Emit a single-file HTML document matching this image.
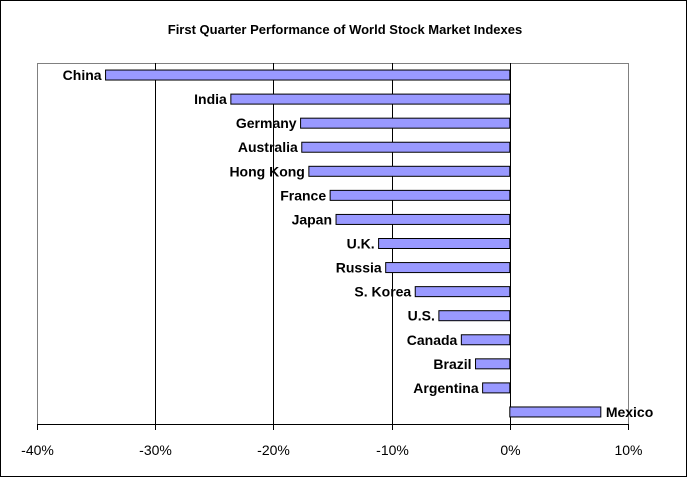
<!DOCTYPE html>
<html><head><meta charset="utf-8"><style>
html,body{margin:0;padding:0;background:#fff;}
svg{display:block;font-family:"Liberation Sans",Arial,sans-serif;}
</style></head><body>
<svg id="chart" width="687" height="477">
<rect x="0.5" y="0.5" width="686" height="476" fill="#fff" stroke="#000"/>
<text x="345" y="34" text-anchor="middle" font-size="13" font-weight="bold">First Quarter Performance of World Stock Market Indexes</text>
<g id="plot"></g>
</svg>
<script>
const categories = ["China","India","Germany","Australia","Hong Kong","France","Japan","U.K.","Russia","S. Korea","U.S.","Canada","Brazil","Argentina","Mexico"];
const values = [-34.2,-23.6,-17.7,-17.6,-17.0,-15.2,-14.7,-11.1,-10.5,-8.0,-6.0,-4.1,-2.9,-2.3,7.7];
const tickValues = [-40,-30,-20,-10,0,10];
const tickLabels = ["-40%","-30%","-20%","-10%","0%","10%"];

const NS="http://www.w3.org/2000/svg";
const g=document.getElementById('plot');
const L=37,R=628,T=63,B=424;
const xMin=-40,xMax=10;
function xs(v){return L+(v-xMin)/(xMax-xMin)*(R-L);}
const band=(B-T)/categories.length;
function yc(i){return T+band*(i+0.5);}
function mk(tag,attrs){const e=document.createElementNS(NS,tag);for(const k in attrs)e.setAttribute(k,attrs[k]);g.appendChild(e);return e;}

let pa=mk('rect',{x:L+0.5,y:T+0.5,width:R-L,height:B-T,fill:'#fff',stroke:'#808080'});



tickValues.forEach((v,i)=>{
  const x=Math.round(xs(v))+0.5;
  if(v>xMin && v<xMax){
    let gl=mk('line',{x1:x,x2:x,y1:T,y2:B,stroke:'#000'});
    
    
  }
  let tk=mk('line',{x1:x,x2:x,y1:B,y2:B+6,stroke:'#000'});
  
  
  let t=mk('text',{x:x,y:B+31,'text-anchor':'middle','font-size':'14'});
  t.textContent=tickLabels[i];
  
  
});
let ax=mk('line',{x1:L,x2:R+1,y1:B+0.5,y2:B+0.5,stroke:'#000'});



categories.forEach((c,i)=>{
  const v=values[i];
  const x0=xs(0),x1=xs(v);
  const y=yc(i);
  let b=mk('rect',{x:Math.min(x0,x1),y:y-5,width:Math.abs(x1-x0),height:10,fill:'#9999ff',stroke:'#000','stroke-width':1});
  
  
  let t=mk('text',{x:v<0?x1-4:x1+5,y:y+5,'text-anchor':v<0?'end':'start','font-size':'14','font-weight':'bold'});
  t.textContent=c;
  
  
});
</script>
</body></html>
